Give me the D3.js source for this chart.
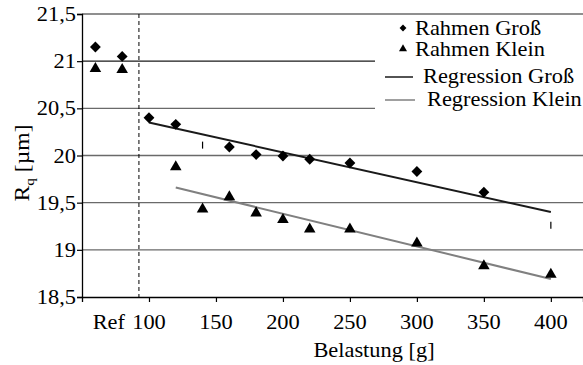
<!DOCTYPE html>
<html>
<head>
<meta charset="utf-8">
<script src="https://cdn.jsdelivr.net/npm/d3@7"></script>
<style>
  html, body { margin: 0; padding: 0; background: #fff; }
  svg { display: block; }
</style>
</head>
<body>
<div id="chart"></div>
<script>
// --- data ---
const refLabel = 'Ref';
const refPos = 70;            // where "Ref" sits on the load axis
const refLoads = [60, 80];
const refGross = [21.15, 21.05];
const refKlein = [20.92, 20.91];

const loads = [100, 120, 140, 160, 180, 200, 220, 250, 300, 350, 400];
const gross = [20.40, 20.33, null, 20.09, 20.01, 19.995, 19.96, 19.92, 19.83, 19.61, null];
const klein = [null, 19.88, 19.43, 19.56, 19.39, 19.32, 19.22, 19.22, 19.07, 18.83, 18.74];
const marks = [[140, 20.11], [400, 19.26]];

const regGross = [[100, 20.35], [400, 19.40]];
const regKlein = [[120, 19.66], [400, 18.69]];

const xTicks = [100, 150, 200, 250, 300, 350, 400];
const yTicks = [18.5, 19, 19.5, 20, 20.5, 21, 21.5];
const legendItems = ['Rahmen Groß', 'Rahmen Klein', 'Regression Groß', 'Regression Klein'];

const W = 583, H = 365;
const FONT = 'Liberation Serif';
const FS = 20, SX = 1.12;   // reference text is slightly wide

const svg = d3.select('#chart').append('svg')
  .attr('width', W).attr('height', H);

const x = d3.scaleLinear().domain([50, 424]).range([82, 583]);
const y = d3.scaleLinear().domain([18.5, 21.5]).range([297, 14]);

function label(g, tx, ty, str, anchor) {
  const t = g.append('g').attr('transform', `translate(${tx},${ty}) scale(${SX},1)`)
    .append('text')
    .style('font-family', FONT).style('font-size', FS + 'px').attr('fill', '#000')
    .attr('text-anchor', anchor || 'start');
  t.text(str);
  return t;
}

const fmt = v => String(v).replace('.', ',');

// grid
svg.append('g').selectAll('line')
  .data(yTicks.filter(v => v > 18.5))
  .join('line')
  .attr('x1', x(50)).attr('x2', W)
  .attr('y1', d => y(d)).attr('y2', d => y(d))
  .attr('stroke', d => d === 21 ? '#1a1a1a' : '#6a6a6a')
  .attr('stroke-width', 1.3);

// separator between Ref and loads
svg.append('line')
  .attr('x1', x(92.5)).attr('x2', x(92.5))
  .attr('y1', y(21.5)).attr('y2', y(18.5))
  .attr('stroke', '#000').attr('stroke-width', 1)
  .attr('stroke-dasharray', '4,3');

// axes
const yAxis = svg.append('g').attr('transform', `translate(${x(50)},0)`)
  .call(d3.axisLeft(y).tickValues(yTicks).tickSize(5).tickFormat(''));
const xAxis = svg.append('g').attr('transform', `translate(0,${y(18.5)})`)
  .call(d3.axisBottom(x).tickValues(xTicks).tickSize(5).tickFormat(''));
[yAxis, xAxis].forEach(a => {
  a.select('.domain').attr('stroke', '#000').attr('stroke-width', 1.3);
  a.selectAll('.tick line').attr('stroke', '#000').attr('stroke-width', 1.2);
});

const labels = svg.append('g');
yTicks.forEach(v => label(labels, 76, y(v) + 7, fmt(v), 'end'));
xTicks.forEach(v => label(labels, x(v), 329, String(v), 'middle'));
label(labels, x(refPos), 329, refLabel, 'middle');
label(labels, 374, 357, 'Belastung [g]', 'middle');

// y title
const yt = svg.append('g').attr('transform', `translate(29,163) rotate(-90) scale(1.18,1)`)
  .append('text')
  .style('font-family', FONT).style('font-size', FS + 'px').attr('text-anchor', 'middle');
yt.append('tspan').text('R');
yt.append('tspan').style('font-size', '13px').attr('dy', 5).text('q');
yt.append('tspan').attr('dy', -5).text(' [µm]');

// regression lines
const line = d3.line().x(d => x(d[0])).y(d => y(d[1]));
svg.append('path').datum(regGross).attr('d', line)
  .attr('fill', 'none').attr('stroke', '#1a1a1a').attr('stroke-width', 2);
svg.append('path').datum(regKlein).attr('d', line)
  .attr('fill', 'none').attr('stroke', '#808080').attr('stroke-width', 2);

// points
const diamond = d3.symbol().type(d3.symbolDiamond2).size(75);
const triangle = d3.symbol().type(d3.symbolTriangle).size(58);

const grossPts = refLoads.map((l, i) => [l, refGross[i]])
  .concat(loads.map((l, i) => [l, gross[i]]).filter(d => d[1] != null));
const kleinPts = refLoads.map((l, i) => [l, refKlein[i]])
  .concat(loads.map((l, i) => [l, klein[i]]).filter(d => d[1] != null));

svg.append('g').selectAll('path').data(grossPts).join('path')
  .attr('d', diamond)
  .attr('transform', d => `translate(${x(d[0])},${y(d[1])})`)
  .attr('fill', '#000');
svg.append('g').selectAll('path').data(kleinPts).join('path')
  .attr('d', triangle)
  .attr('transform', d => `translate(${x(d[0])},${y(d[1])})`)
  .attr('fill', '#000');

svg.append('g').selectAll('line').data(marks).join('line')
  .attr('x1', d => x(d[0])).attr('x2', d => x(d[0]))
  .attr('y1', d => y(d[1]) - 3.5).attr('y2', d => y(d[1]) + 3.5)
  .attr('stroke', '#000').attr('stroke-width', 1.2);

// legend
const lg = svg.append('g');
lg.append('rect').attr('x', 375).attr('y', 17).attr('width', W - 375).attr('height', 96)
  .attr('fill', '#fff');
lg.append('path').attr('d', d3.symbol().type(d3.symbolDiamond2).size(30))
  .attr('transform', 'translate(403,28)').attr('fill', '#000');
lg.append('path').attr('d', d3.symbol().type(d3.symbolTriangle).size(28))
  .attr('transform', 'translate(403,49)').attr('fill', '#000');
lg.append('line').attr('x1', 385).attr('x2', 413).attr('y1', 77).attr('y2', 77)
  .attr('stroke', '#1a1a1a').attr('stroke-width', 1.5);
lg.append('line').attr('x1', 385).attr('x2', 415).attr('y1', 100).attr('y2', 100)
  .attr('stroke', '#808080').attr('stroke-width', 1.5);
label(lg, 415, 35, legendItems[0]);
label(lg, 415, 56, legendItems[1]);
label(lg, 423, 83, legendItems[2]);
label(lg, 427, 106, legendItems[3]);
</script>
</body>
</html>
